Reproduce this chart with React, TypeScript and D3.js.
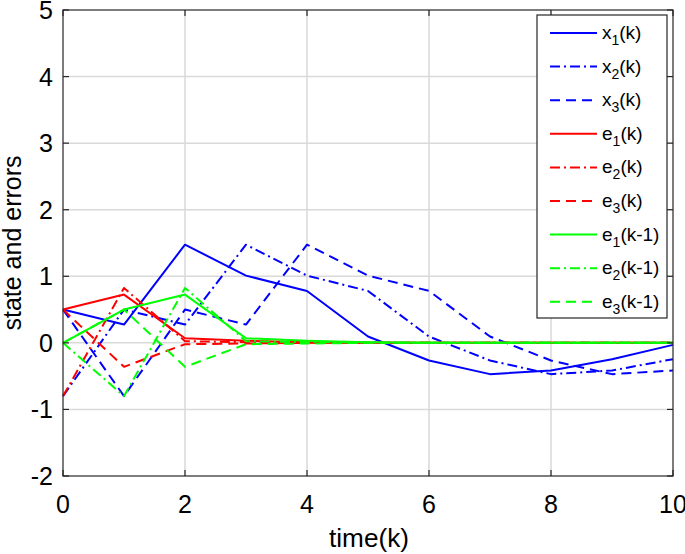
import React from "react";
import * as d3 from "d3";

const K = [0, 1, 2, 3, 4, 5, 6, 7, 8, 9, 10];
const x1 = [0.5, 0.275, 1.475, 1.01, 0.78, 0.095, -0.265, -0.47, -0.415, -0.245, -0.03];
const x2 = [-0.8, 0.5, 0.275, 1.475, 1.01, 0.78, 0.095, -0.265, -0.47, -0.415, -0.245];
const x3 = [0.5, -0.8, 0.5, 0.275, 1.475, 1.01, 0.78, 0.095, -0.265, -0.47, -0.415];
const e1 = [0.5, 0.725, 0.07, 0.03, 0.01, 0, 0, 0, 0, 0, 0];
const e2 = [-0.8, 0.825, 0.025, 0.01, 0.005, 0, 0, 0, 0, 0, 0];
const e3 = [0.5, -0.36, -0.02, -0.01, 0, 0, 0, 0, 0, 0, 0];
const e1p = [0, 0.5, 0.725, 0.07, 0.03, 0.01, 0, 0, 0, 0, 0];
const e2p = [0, -0.8, 0.825, 0.025, 0.01, 0.005, 0, 0, 0, 0, 0];
const e3p = [0, 0.5, -0.36, -0.02, -0.01, 0, 0, 0, 0, 0, 0];

const xTicks = [0, 2, 4, 6, 8, 10];
const yTicks = [-2, -1, 0, 1, 2, 3, 4, 5];

const series = [
  { name: "x", sub: "1", tail: "(k)", values: x1, color: "#0000ff", style: "solid" },
  { name: "x", sub: "2", tail: "(k)", values: x2, color: "#0000ff", style: "dashdot" },
  { name: "x", sub: "3", tail: "(k)", values: x3, color: "#0000ff", style: "dashed" },
  { name: "e", sub: "1", tail: "(k)", values: e1, color: "#ff0000", style: "solid" },
  { name: "e", sub: "2", tail: "(k)", values: e2, color: "#ff0000", style: "dashdot" },
  { name: "e", sub: "3", tail: "(k)", values: e3, color: "#ff0000", style: "dashed" },
  { name: "e", sub: "1", tail: "(k-1)", values: e1p, color: "#00ff00", style: "solid" },
  { name: "e", sub: "2", tail: "(k-1)", values: e2p, color: "#00ff00", style: "dashdot" },
  { name: "e", sub: "3", tail: "(k-1)", values: e3p, color: "#00ff00", style: "dashed" },
];

const dashes: Record<string, string | undefined> = {
  solid: undefined,
  dashed: "10,6",
  dashdot: "10,4,2,4",
};

const W = 685, H = 554;
const L = 63, R = 673, T = 10, B = 476;
const FONT = "'Liberation Sans', Arial, Helvetica, sans-serif";

export default function App() {
  const x = d3.scaleLinear().domain([0, 10]).range([L, R]);
  const y = d3.scaleLinear().domain([-2, 5]).range([B, T]);
  const line = d3.line<number>().x((_, i) => x(K[i])).y((d) => y(d));
  const axisColor = "#262626";
  const tickLen = 6;

  const legX = 537, legY = 15, legW = 130, legH = 303;
  const rowH = 33.6, row0 = 33;

  return (
    <svg width={W} height={H} style={{ position: "absolute", left: 0, top: 0, background: "#fff" }} fontFamily={FONT}>
      <rect x={0} y={0} width={W} height={H} fill="#fff" />
      {xTicks.slice(1, -1).map((t) => (
        <line key={"gx" + t} x1={x(t)} x2={x(t)} y1={T} y2={B} stroke="#d9d9d9" strokeWidth={1.5} />
      ))}
      {yTicks.slice(1, -1).map((t) => (
        <line key={"gy" + t} x1={L} x2={R} y1={y(t)} y2={y(t)} stroke="#d9d9d9" strokeWidth={1.5} />
      ))}
      {series.map((s, i) => (
        <path key={i} d={line(s.values) || ""} fill="none" stroke={s.color} strokeWidth={2}
          strokeDasharray={dashes[s.style]} strokeLinejoin="round" />
      ))}
      <rect x={L} y={T} width={R - L} height={B - T} fill="none" stroke={axisColor} strokeWidth={1.2} />
      {xTicks.map((t) => (
        <g key={"xt" + t}>
          <line x1={x(t)} x2={x(t)} y1={B} y2={B - tickLen} stroke={axisColor} strokeWidth={1.2} />
          <line x1={x(t)} x2={x(t)} y1={T} y2={T + tickLen} stroke={axisColor} strokeWidth={1.2} />
          <text x={x(t)} y={513} textAnchor="middle" fontSize={25} fill="#000">{t}</text>
        </g>
      ))}
      {yTicks.map((t) => (
        <g key={"yt" + t}>
          <line x1={L} x2={L + tickLen} y1={y(t)} y2={y(t)} stroke={axisColor} strokeWidth={1.2} />
          <line x1={R} x2={R - tickLen} y1={y(t)} y2={y(t)} stroke={axisColor} strokeWidth={1.2} />
          <text x={53} y={y(t) + 9} textAnchor="end" fontSize={25} fill="#000">{t}</text>
        </g>
      ))}
      <text x={369} y={547} textAnchor="middle" fontSize={25} textLength={80} lengthAdjust="spacingAndGlyphs" fill="#000">time(k)</text>
      <text transform={`translate(21,243) rotate(-90)`} textAnchor="middle" fontSize={25} fill="#000">state and errors</text>
      <rect x={legX} y={legY} width={legW} height={legH} fill="#fff" stroke={axisColor} strokeWidth={1.2} />
      {series.map((s, i) => {
        const cy = row0 + i * rowH;
        return (
          <g key={"lg" + i}>
            <line x1={550} x2={597} y1={cy} y2={cy} stroke={s.color} strokeWidth={2} strokeDasharray={dashes[s.style]} />
            <text x={602} y={cy + 6} fontSize={19} fill="#000">
              {s.name}
              <tspan fontSize={14} dy={6}>{s.sub}</tspan>
              <tspan dy={-6}>{s.tail}</tspan>
            </text>
          </g>
        );
      })}
    </svg>
  );
}
